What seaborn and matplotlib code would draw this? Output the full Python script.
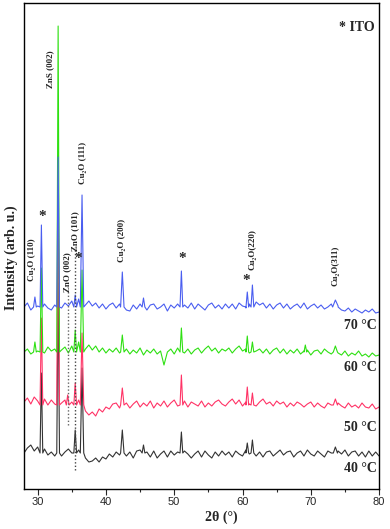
import numpy as np
import pandas as pd
import seaborn as sns
import matplotlib.pyplot as plt
from matplotlib.ticker import MultipleLocator

sns.set_style("ticks")
plt.rcParams['font.family'] = ['Liberation Sans', 'DejaVu Sans']

# sample names, drawing order (bottom to top), colours and vertical stacking
samples = ['40 °C', '50 °C', '60 °C', '70 °C']
colors = ['#333333', '#ff3366', '#2ee012', '#4a5ef0']
offsets = [36, 84, 137, 182]

# background ripple, read every 0.5 deg from 28 to 80 (arb. units)
theta_grid = np.arange(28, 80.01, 0.5)
noise_40 = [0, 5, 8, 2, 6, 0, 4, -2, 1, -3,
            2, -3, 1, 4, 0, 5, 3, -1, -5, -9,
            -8, -5, -9, -4, -6, -1, -4, 1, -2, 2,
            -3, 1, -5, 2, 3, -2, 1, -4, 2, -5,
            -1, 2, -4, 2, -2, 1, -4, 2, -1, -5,
            -1, 2, -4, 2, -2, -5, 1, -3, 2, -2,
            1, -4, 2, -1, -3, 3, -1, 2, -3, 1,
            -4, 1, 2, -3, 0, 3, -2, 1, 2, -4,
            0, 2, -3, 3, -1, -3, 2, -1, -4, 2,
            0, -3, 2, -1, 3, -3, 1, 2, -3, 1,
            -4, 2, -3, 1, -3]
noise_50 = [3, 7, 1, 8, 4, 2, 6, 0, 5, 1,
            6, 2, 5, -1, 3, -1, 5, -3, -6, -10,
            -7, -11, -4, -7, -2, -4, 1, 2, -3, 1,
            2, -3, 1, 4, -2, 2, -1, 4, -3, 2,
            -1, 4, -2, 2, 5, -1, 2, 4, -2, 3,
            1, -1, 4, -2, 2, -1, 3, 5, 1, -1,
            3, 6, 1, 5, -1, 3, 1, 5, -1, 3,
            6, 1, 3, -1, 4, 1, 3, -2, 2, -1,
            3, 1, -2, 1, 3, -2, 2, -1, -3, 2,
            0, -2, 2, -1, -3, 2, -2, 0, -3, 2,
            -2, -3, 1, -4, -2]
noise_60 = [0, 3, -2, 5, 1, 3, -1, 5, 1, 3,
            -1, 2, 5, -1, 6, 3, 10, 6, 3, 7,
            2, 6, 0, 4, -1, 3, 0, 4, -1, 2,
            3, -2, 2, -1, 4, -3, 2, -1, 3, -2,
            1, -13, 0, 3, -2, 4, 1, -1, 3, -2,
            2, 4, -1, 3, 6, 1, 4, -1, 3, 1,
            4, -1, 3, 6, 1, 3, -1, 4, 1, 3,
            -1, 3, -2, 2, 4, -1, 3, -2, 2, -1,
            3, -2, 1, 2, -3, 1, 2, -2, 3, 0,
            -2, 2, -1, -3, 1, -4, -1, -3, 1, -4,
            -2, -5, -1, -4, -3]
noise_70 = [0, 4, -3, 3, 1, -2, 3, -1, -3, 2,
            3, -1, 4, 1, 6, 3, 8, 5, 2, 6,
            1, 4, -1, 3, -2, 2, 4, -1, 3, 0,
            -3, -4, 2, -2, 3, -1, -3, 2, 3, -2,
            0, 3, -4, 2, -1, 3, -2, 2, -1, 4,
            -2, 3, 0, -3, 2, 4, -1, 2, -2, 3,
            -1, 3, -2, 4, 1, -1, 3, 1, 5, 2,
            4, -1, 3, -2, 2, 4, -1, 3, -2, 1,
            3, -1, 4, -2, 1, 3, -1, 2, -2, 0,
            3, -1, 1, -3, -4, -1, -5, -2, -4, -6,
            -3, -5, -2, -6, -5]

# diffraction peaks: (2theta, height above background, half width at base)
peaks_40 = [(30.55, 80, 0.2), (33.0, 170, 0.2), (35.5, 23, 0.2), (36.5, 85, 0.25),
            (42.4, 23, 0.25), (45.5, 8, 0.2), (51.05, 21, 0.2), (60.7, 10, 0.2),
            (61.45, 13, 0.2), (73.6, 6, 0.3)]
peaks_50 = [(30.55, 87, 0.2), (33.0, 215, 0.2), (34.4, 10, 0.2), (35.5, 22, 0.2),
            (36.5, 72, 0.25), (42.4, 17, 0.25), (51.05, 30, 0.2), (60.7, 18, 0.2),
            (61.45, 12, 0.2), (73.6, 6, 0.3)]
peaks_60 = [(29.6, 10, 0.2), (30.55, 84, 0.2), (33.0, 326, 0.2), (35.5, 22, 0.2),
            (36.5, 82, 0.25), (42.4, 17, 0.25), (51.05, 24, 0.2), (60.7, 16, 0.2),
            (61.45, 10, 0.2), (69.2, 7, 0.2), (73.6, 6, 0.3)]
peaks_70 = [(29.6, 10, 0.2), (30.55, 82, 0.2), (33.0, 150, 0.2), (35.5, 12, 0.2),
            (36.5, 112, 0.25), (42.4, 35, 0.25), (45.5, 9, 0.2), (51.05, 36, 0.2),
            (60.7, 15, 0.2), (61.45, 22, 0.2), (73.6, 7, 0.4)]

noises = [noise_40, noise_50, noise_60, noise_70]
peak_sets = [peaks_40, peaks_50, peaks_60, peaks_70]


def pattern(noise, peaks, offset, name):
    x = list(theta_grid)
    y = list(noise)
    keep = [i for i in range(len(x))
            if not any(abs(x[i] - c) < w for c, h, w in peaks)]
    x = [x[i] for i in keep]
    y = [y[i] for i in keep]
    for c, h, w in peaks:
        x += [c - w, c, c + w]
        y += [0, h, 0]
    d = pd.DataFrame({'theta': x, 'counts': np.array(y) + offset})
    d['sample'] = name
    return d.sort_values('theta')


df = pd.concat([pattern(n, p, o, s)
                for n, p, o, s in zip(noises, peak_sets, offsets, samples)])

fig = plt.figure(figsize=(3.9, 5.29), dpi=100)
ax = fig.add_axes([0.0615, 0.0756, 0.9105, 0.9187])

sns.lineplot(data=df, x='theta', y='counts', hue='sample', hue_order=samples,
             palette=colors, estimator=None, sort=False, linewidth=0.8,
             legend=False, ax=ax)

# dotted guide lines for ZnO reflections
ax.plot([34.4, 34.4], [64, 199], color='#666666', lw=1.0, ls=(0, (1, 1.5)))
ax.plot([35.5, 35.5], [19, 242], color='#444444', lw=1.0, ls=(0, (1, 1.5)))

serif = ['Liberation Serif', 'DejaVu Serif']
lab = dict(rotation=90, ha='center', va='center', fontsize=6.5,
           fontweight='bold', family=serif)
ax.text(29.2, 229, 'Cu₂O (110)', **lab)
ax.text(31.8, 420, 'ZnS (002)', **lab)
ax.text(34.3, 217, 'ZnO (002)', **lab)
ax.text(35.45, 258, 'ZnO (101)', **lab)
ax.text(36.6, 326, 'Cu₂O (111)', **lab)
ax.text(42.3, 249, 'Cu₂O (200)', **lab)
ax.text(61.5, 239, 'Cu₂O(220)', **lab)
ax.text(73.6, 223, 'Cu₂O(311)', **lab)

star = dict(ha='center', va='center', fontsize=11, fontweight='bold', family=serif)
for sx, sy in [(30.6, 273), (36.0, 231), (51.1, 231), (60.6, 209)]:
    ax.text(sx, sy, '*', **star)

ax.text(79.3, 462, '* ITO', ha='right', va='center', fontsize=10,
        fontweight='bold', family=serif)
for s, ty in zip(samples, [21, 62, 122, 164]):
    ax.text(79.7, ty, s, ha='right', va='center', fontsize=10,
            fontweight='bold', family=serif)

ax.set_xlim(28, 80)
ax.set_ylim(0, 486)
ax.set_yticks([])
ax.xaxis.set_major_locator(MultipleLocator(10))
ax.xaxis.set_minor_locator(MultipleLocator(5))
ax.tick_params(axis='x', which='major', direction='out', length=4, width=0.8,
               labelsize=8, pad=2)
ax.tick_params(axis='x', which='minor', direction='out', length=2, width=0.8)
for sp in ax.spines.values():
    sp.set_visible(True)
    sp.set_linewidth(1.0)
    sp.set_color('black')

ax.set_xlabel('2θ (°)', fontsize=10, fontweight='bold', family=serif)
ax.xaxis.set_label_coords(0.555, -0.045)
ax.set_ylabel('Intensity (arb. u.)', fontsize=10, fontweight='bold', family=serif)
ax.yaxis.set_label_coords(-0.017, 0.475)

plt.savefig('out.png', dpi=100)
